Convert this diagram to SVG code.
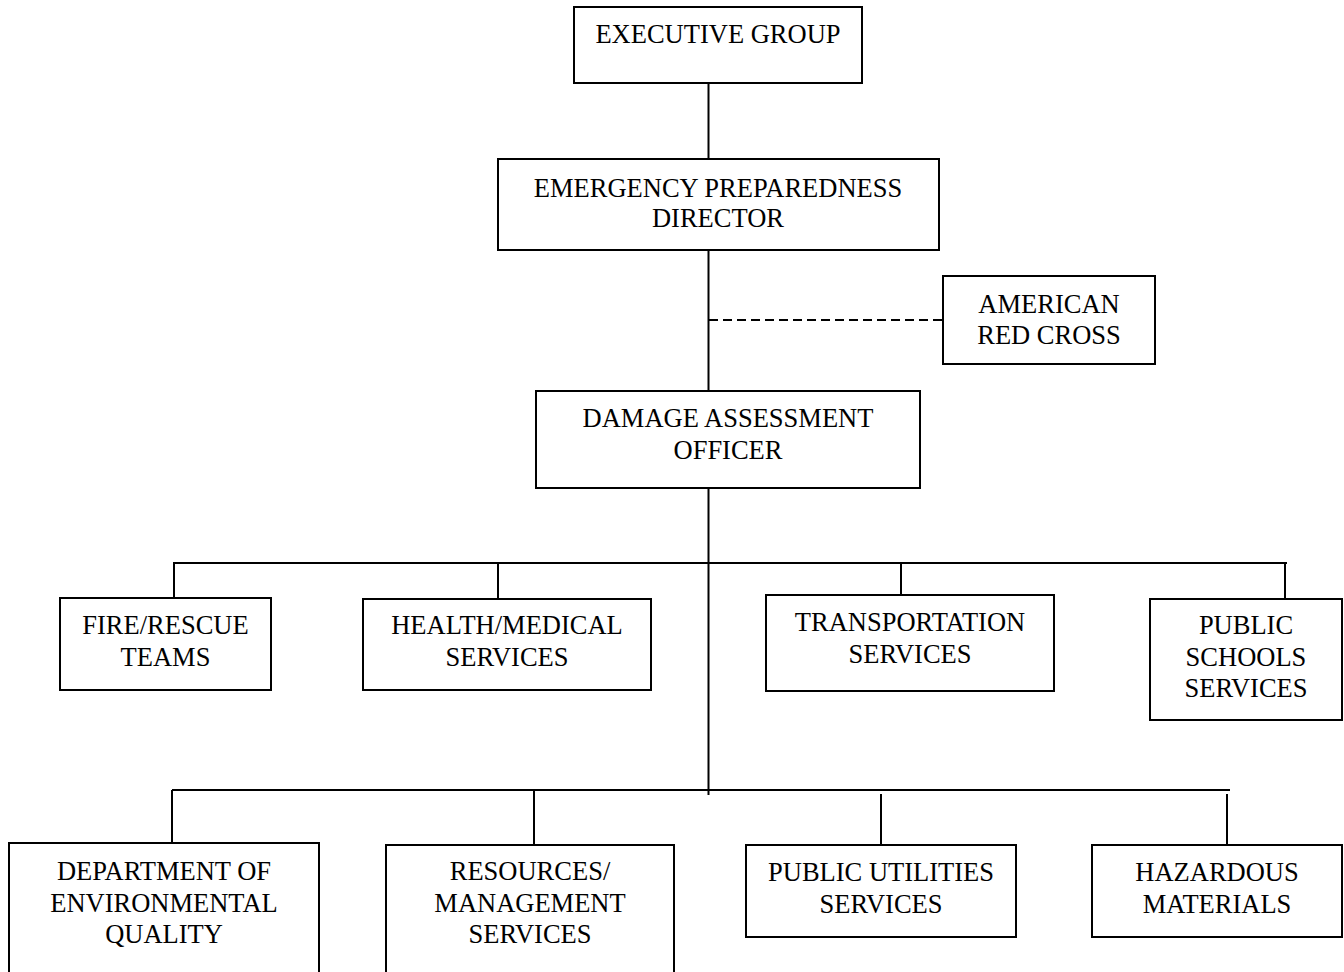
<svg xmlns="http://www.w3.org/2000/svg" width="1344" height="972" viewBox="0 0 1344 972">
  <style>
    .box { fill: #ffffff; stroke: #000000; stroke-width: 2; }
    .line { fill: none; stroke: #000000; stroke-width: 2; }
    .dash { fill: none; stroke: #000000; stroke-width: 2; stroke-dasharray: 9 5; }
    text { font-family: "Liberation Serif", "Times New Roman", serif; font-size: 26.5px; fill: #000000; text-anchor: middle; }
  </style>
  <rect x="0" y="0" width="1344" height="972" fill="#ffffff"/>

  <!-- connectors -->
  <g id="connectors">
    <line class="line" x1="708.5" y1="83" x2="708.5" y2="159"/>
    <line class="line" x1="708.5" y1="250" x2="708.5" y2="391"/>
    <line class="dash" x1="709" y1="320" x2="943" y2="320"/>
    <line class="line" x1="708.5" y1="488" x2="708.5" y2="795"/>
    <!-- first tier bus -->
    <line class="line" x1="173" y1="563" x2="1287" y2="563"/>
    <line class="line" x1="174" y1="563" x2="174" y2="598"/>
    <line class="line" x1="498" y1="563" x2="498" y2="599"/>
    <line class="line" x1="901" y1="563" x2="901" y2="595"/>
    <line class="line" x1="1285" y1="563" x2="1285" y2="599"/>
    <!-- second tier bus -->
    <line class="line" x1="172" y1="790" x2="1230" y2="790"/>
    <line class="line" x1="172" y1="790" x2="172" y2="843"/>
    <line class="line" x1="534" y1="790" x2="534" y2="845"/>
    <line class="line" x1="881" y1="794" x2="881" y2="845"/>
    <line class="line" x1="1227" y1="794" x2="1227" y2="845"/>
  </g>

  <g id="executive-group">
    <rect class="box" x="574" y="7" width="288" height="76"/>
    <text x="718" y="43">EXECUTIVE GROUP</text>
  </g>

  <g id="emergency-preparedness-director">
    <rect class="box" x="498" y="159" width="441" height="91"/>
    <text x="718" y="197">EMERGENCY PREPAREDNESS</text>
    <text x="718" y="227">DIRECTOR</text>
  </g>

  <g id="american-red-cross">
    <rect class="box" x="943" y="276" width="212" height="88"/>
    <text x="1049" y="313">AMERICAN</text>
    <text x="1049" y="344">RED CROSS</text>
  </g>

  <g id="damage-assessment-officer">
    <rect class="box" x="536" y="391" width="384" height="97"/>
    <text x="728" y="427">DAMAGE ASSESSMENT</text>
    <text x="728" y="459">OFFICER</text>
  </g>

  <g id="fire-rescue">
    <rect class="box" x="60" y="598" width="211" height="92"/>
    <text x="165.5" y="634">FIRE/RESCUE</text>
    <text x="165.5" y="666">TEAMS</text>
  </g>

  <g id="health-medical">
    <rect class="box" x="363" y="599" width="288" height="91"/>
    <text x="507" y="634">HEALTH/MEDICAL</text>
    <text x="507" y="666">SERVICES</text>
  </g>

  <g id="transportation">
    <rect class="box" x="766" y="595" width="288" height="96"/>
    <text x="910" y="631">TRANSPORTATION</text>
    <text x="910" y="663">SERVICES</text>
  </g>

  <g id="public-schools">
    <rect class="box" x="1150" y="599" width="192" height="121"/>
    <text x="1246" y="634">PUBLIC</text>
    <text x="1246" y="666">SCHOOLS</text>
    <text x="1246" y="697">SERVICES</text>
  </g>

  <g id="environmental-quality">
    <rect class="box" x="9" y="843" width="310" height="140"/>
    <text x="164" y="880">DEPARTMENT OF</text>
    <text x="164" y="912">ENVIRONMENTAL</text>
    <text x="164" y="943">QUALITY</text>
  </g>

  <g id="resources-management">
    <rect class="box" x="386" y="845" width="288" height="140"/>
    <text x="530" y="880">RESOURCES/</text>
    <text x="530" y="912">MANAGEMENT</text>
    <text x="530" y="943">SERVICES</text>
  </g>

  <g id="public-utilities">
    <rect class="box" x="746" y="845" width="270" height="92"/>
    <text x="881" y="881">PUBLIC UTILITIES</text>
    <text x="881" y="913">SERVICES</text>
  </g>

  <g id="hazardous-materials">
    <rect class="box" x="1092" y="845" width="250" height="92"/>
    <text x="1217" y="881">HAZARDOUS</text>
    <text x="1217" y="913">MATERIALS</text>
  </g>
</svg>
